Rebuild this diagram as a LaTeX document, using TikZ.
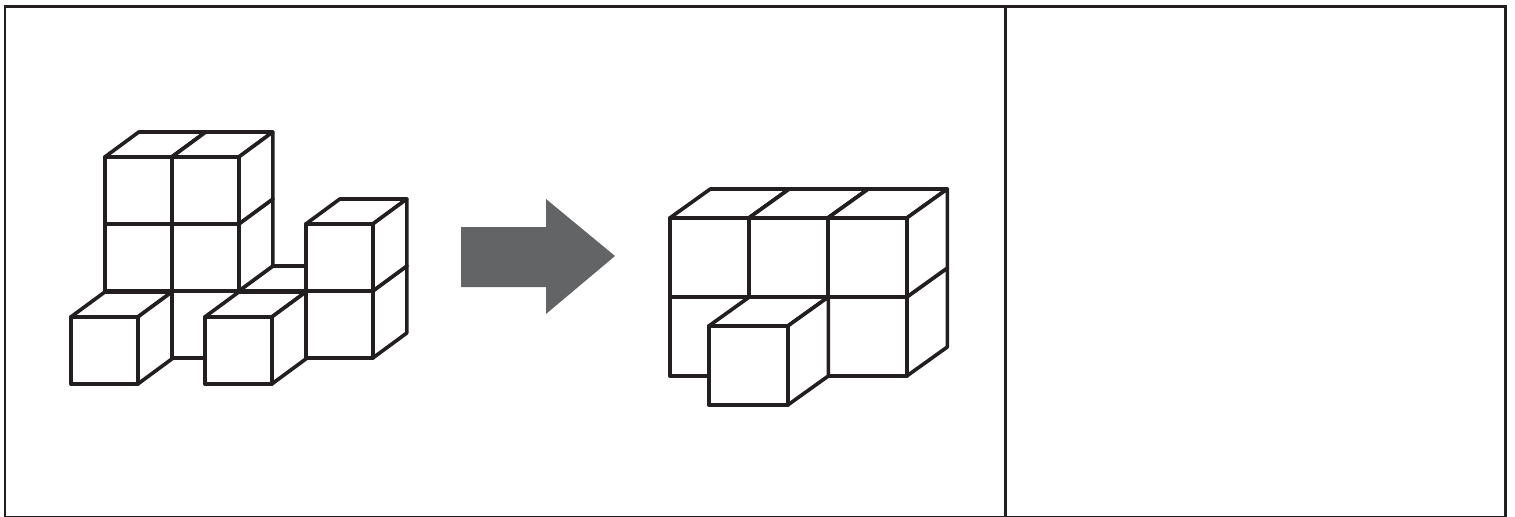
\documentclass[tikz,border=0pt]{standalone}
\definecolor{inkline}{HTML}{231F20}
\definecolor{arrowgray}{HTML}{636466}
\tikzset{
  cubeline/.style={draw=inkline, fill=white, line width=.072cm, line join=round},
  frameline/.style={draw=inkline, line width=.06cm},
}
% #1 edge, #2/#3 depth offset, #4/#5 upper left corner of the front face
\newcommand{\cubeat}[5]{
  \path[cubeline] (#4,#5) -- ++(#2,#3) -- ++(#1,0) -- ++(-#2,-#3) -- cycle;
  \path[cubeline] (#4+#1,#5) -- ++(#2,#3) -- ++(0,#1) -- ++(-#2,-#3) -- cycle;
  \path[cubeline] (#4,#5) rectangle ++(#1,#1);
}
\begin{document}
\begin{tikzpicture}[x=.02cm,y=-.02cm]
\useasboundingbox (0,0) rectangle (1515,517);
    % frame
    \draw[frameline] (5,7) rectangle (1505,517.3);
    \draw[frameline] (1005,7) -- (1005,517.3);
    % left figure, back to front and bottom to top
    \begin{scope}[xshift=-.004cm]
    \foreach \x/\y in {105/291,172/291,239/291,105/224,172/224,105/157,172/157,306/291,306/224,71/317,205/317}
        {\cubeat{67}{34}{-25}{\x}{\y}}
    \end{scope}
    % block arrow
    \fill[arrowgray] (461,227) -- (546,227) -- (546,199) -- (615,256) -- (546,314) -- (546,287) -- (461,287) -- cycle;
    % right figure
    \begin{scope}[xshift=-.004cm]
    \foreach \x/\y in {670/297,749/297,828/297,670/218,749/218,828/218,709/326}
        {\cubeat{79}{40.5}{-29}{\x}{\y}}
    \end{scope}
\end{tikzpicture}
\end{document}
